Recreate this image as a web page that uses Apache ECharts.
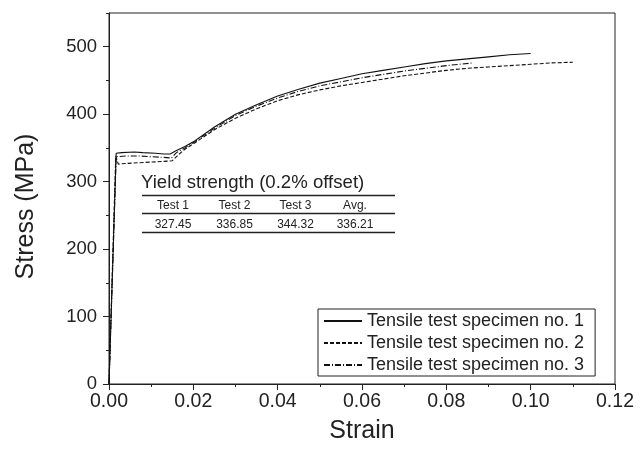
<!DOCTYPE html>
<html>
<head>
<meta charset="utf-8">
<script src="https://cdn.jsdelivr.net/npm/echarts@6/dist/echarts.min.js"></script>
<style>
html,body{margin:0;padding:0;background:#fff;}
#chart{width:644px;height:449px;}
</style>
</head>
<body>
<div id="chart"></div>
<script>
// ---- data ----
var seriesNames = ['Tensile test specimen no. 1', 'Tensile test specimen no. 2', 'Tensile test specimen no. 3'];
var spec1 = [[0,0],[0.0017,342],[0.003,343],[0.006,344],[0.008,343],[0.011,342],[0.013,341],[0.0145,341],[0.016,346],[0.018,352],[0.02,359],[0.025,381],[0.03,400],[0.035,414],[0.04,427],[0.045,437],[0.05,446],[0.055,453],[0.06,460],[0.065,465],[0.07,470],[0.075,475],[0.08,479],[0.085,482],[0.09,485],[0.095,488],[0.1,490]];
var spec2 = [[0,0],[0.0016,338],[0.0022,326],[0.004,327],[0.007,328],[0.01,329],[0.013,330],[0.015,331],[0.0165,340],[0.018,348],[0.02,356],[0.025,377],[0.03,394],[0.035,408],[0.04,420],[0.045,429],[0.05,436],[0.055,442],[0.06,447],[0.065,452],[0.07,457],[0.075,461],[0.08,465],[0.085,468],[0.09,470],[0.095,472],[0.1,474],[0.105,476],[0.11,477]];
var spec3 = [[0,0],[0.0017,337],[0.004,338],[0.007,338],[0.01,337],[0.013,336],[0.0148,335],[0.016,343],[0.018,350],[0.02,358],[0.025,379],[0.03,398],[0.035,412],[0.04,424],[0.045,434],[0.05,442],[0.055,448],[0.06,454],[0.065,459],[0.07,464],[0.075,468],[0.08,472],[0.0863,476]];
var xTicks = [0, 0.02, 0.04, 0.06, 0.08, 0.10, 0.12];
var yTicks = [0, 100, 200, 300, 400, 500];
var tableTitle = 'Yield strength (0.2% offset)';
var tableHeaders = ['Test 1', 'Test 2', 'Test 3', 'Avg.'];
var tableValues = ['327.45', '336.85', '344.32', '336.21'];

// ---- chart ----
var FONT = "'Liberation Sans', Arial, Helvetica, sans-serif";
var chart = echarts.init(document.getElementById('chart'), null, {renderer: 'canvas'});

var colX = [173, 234.5, 295.5, 355];
var graphics = [];
graphics.push({type:'text', left:141, top:173, style:{text: tableTitle, font: '18.6px ' + FONT, fill:'#222'}});
[195.5, 213.5, 232.5].forEach(function(y){
  graphics.push({type:'line', shape:{x1:142, y1:y, x2:395, y2:y}, style:{stroke:'#222', lineWidth:1.6}});
});
tableHeaders.forEach(function(t,i){
  graphics.push({type:'text', x:colX[i], y:206, style:{text:t, font:'12px ' + FONT, fill:'#222', align:'center', verticalAlign:'middle'}});
});
tableValues.forEach(function(t,i){
  graphics.push({type:'text', x:colX[i], y:225, style:{text:t, font:'12px ' + FONT, fill:'#222', align:'center', verticalAlign:'middle'}});
});

var option = {
  animation: false,
  backgroundColor: '#fff',
  textStyle: {fontFamily: FONT},
  grid: {left:109, right:29, top:13, bottom:65, show:true, borderColor:'#222', borderWidth:1, backgroundColor:'transparent'},
  legend: {
    orient:'vertical', left:318, top:309,
    padding:[3,11,2,5], itemGap:4, itemWidth:38, itemHeight:17,
    borderColor:'#222', borderWidth:1, backgroundColor:'#fff',
    itemStyle:{opacity:0},
    textStyle:{fontSize:18, color:'#222', fontFamily:FONT, lineHeight:17},
    data: seriesNames
  },
  xAxis: {
    type:'value', min:xTicks[0], max:xTicks[xTicks.length-1], interval:0.02,
    name:'Strain', nameLocation:'middle', nameGap:35,
    nameTextStyle:{fontSize:25, color:'#222', fontFamily:FONT},
    axisLine:{lineStyle:{color:'#222', width:1}},
    axisTick:{length:6, lineStyle:{color:'#222'}},
    minorTick:{show:true, splitNumber:2, length:3, lineStyle:{color:'#222'}},
    axisLabel:{fontSize:19.5, color:'#222', margin:8, fontFamily:FONT, formatter:function(v){return v.toFixed(2);}},
    splitLine:{show:false}
  },
  yAxis: [{
    type:'value', min:yTicks[0], max:550, interval:100,
    name:'Stress (MPa)', nameLocation:'middle', nameGap:70,
    nameTextStyle:{fontSize:25, color:'#222', fontFamily:FONT, padding:[0,16,0,0]},
    axisLine:{show:true, lineStyle:{color:'#222', width:1}},
    axisTick:{show:true, length:6, lineStyle:{color:'#222'}},
    axisLabel:{fontSize:18.5, color:'#222', margin:12, fontFamily:FONT, showMaxLabel:false,
      formatter:function(v){return v > 500 ? '' : String(v);}},
    splitLine:{show:false}
  },{
    type:'value', min:0, max:550, interval:50, position:'left',
    axisLine:{show:false}, axisTick:{show:true, length:3, lineStyle:{color:'#222'}},
    axisLabel:{show:false}, splitLine:{show:false}
  }],
  series: [
    {name:seriesNames[0], type:'line', data:spec1, symbol:'none', yAxisIndex:0, lineStyle:{color:'#111', width:1.1, type:'solid'}, itemStyle:{color:'#111'}},
    {name:seriesNames[1], type:'line', data:spec2, symbol:'none', yAxisIndex:0, lineStyle:{color:'#111', width:1.1, type:[4,2]}, itemStyle:{color:'#111'}},
    {name:seriesNames[2], type:'line', data:spec3, symbol:'none', yAxisIndex:0, lineStyle:{color:'#111', width:1.1, type:[6,2,1,2]}, itemStyle:{color:'#111'}}
  ],
  graphic: graphics
};
chart.setOption(option);
</script>
</body>
</html>
